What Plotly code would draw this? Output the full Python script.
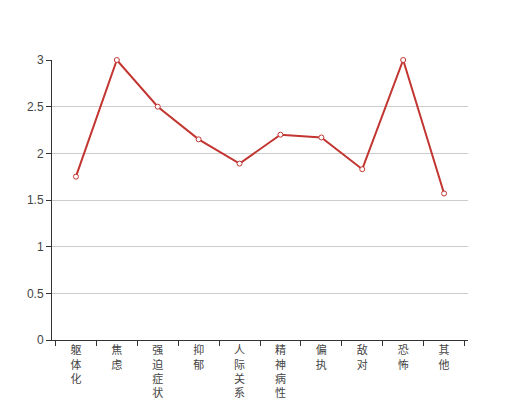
import plotly.graph_objects as go

categories = ["躯体化", "焦虑", "强迫症状", "抑郁", "人际关系敏感", "精神病性", "偏执", "敌对", "恐怖", "其他"]
values = [1.75, 3.0, 2.5, 2.15, 1.89, 2.2, 2.17, 1.83, 3.0, 1.57]
y_ticks = [0, 0.5, 1, 1.5, 2, 2.5, 3]
y_tick_labels = ["0", "0.5", "1", "1.5", "2", "2.5", "3"]

tick_text = ["<br>".join(list(c)) for c in categories]

fig = go.Figure()
fig.add_trace(go.Scatter(
    x=categories, y=values, mode="lines+markers",
    line=dict(color="#c23531", width=2),
    marker=dict(symbol="circle", size=5, color="white",
                line=dict(color="#c23531", width=1)),
    cliponaxis=False,
))

fig.update_layout(
    width=520, height=400,
    margin=dict(l=44, r=60, t=52, b=68),
    paper_bgcolor="white", plot_bgcolor="white",
    showlegend=False,
    font=dict(family="Liberation Sans, Noto Sans CJK SC, sans-serif", size=12, color="#333"),
    xaxis=dict(
        type="category",
        tickmode="array", tickvals=categories, ticktext=tick_text,
        tickson="boundaries", ticks="outside", ticklen=5, tickcolor="#333",
        showline=True, linecolor="#333", linewidth=1,
        showgrid=False, automargin=False, tickangle=0,
        tickfont=dict(family="Noto Sans CJK SC, sans-serif", size=11, color="#444"),
    ),
    yaxis=dict(
        range=[0, 3], tickmode="array", tickvals=y_ticks, ticktext=y_tick_labels,
        ticks="outside", ticklen=5, tickcolor="#333",
        showline=True, linecolor="#333", linewidth=1,
        showgrid=True, gridcolor="#ccc", gridwidth=1,
        zeroline=False, automargin=False,
        tickfont=dict(size=12, color="#444"),
    ),
)

fig.write_html("out.html")
